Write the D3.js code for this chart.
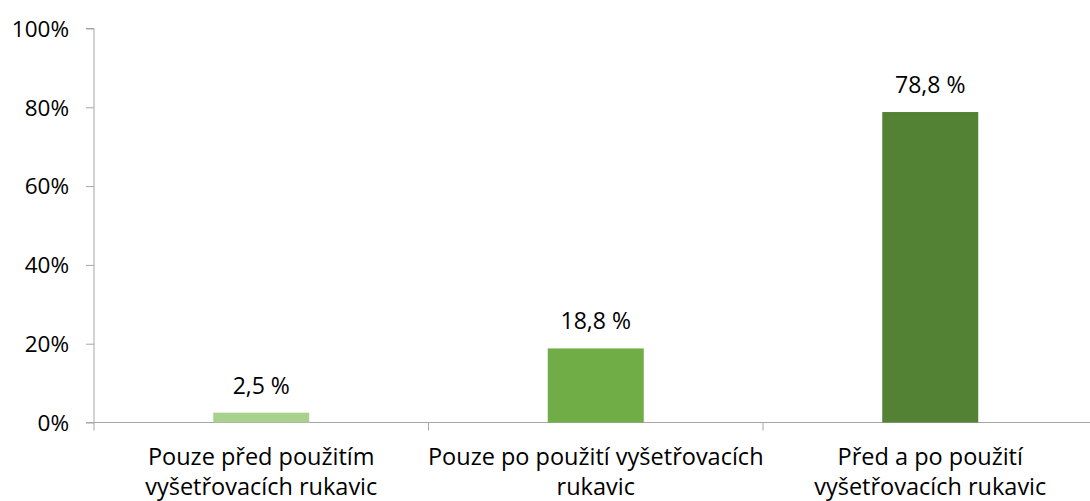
<!DOCTYPE html>
<html><head><meta charset="utf-8">
<script src="https://cdn.jsdelivr.net/npm/d3@7/dist/d3.min.js"></script>
<style>body{margin:0;background:#fff}svg{display:block}text{font-family:"Open Sans",sans-serif;fill:#000}</style>
</head><body>
<svg id="c" width="1090" height="501"></svg>
<script>
const categories = [["Pouze před použitím","vyšetřovacích rukavic"],["Pouze po použití vyšetřovacích","rukavic"],["Před a po použití","vyšetřovacích rukavic"]];
const values = [2.5, 18.8, 78.8];
const labels = ["2,5 %", "18,8 %", "78,8 %"];
const colors = ["#a9d18e", "#70ad47", "#548235"];
const yTicks = [0, 20, 40, 60, 80, 100];

const svg = d3.select("#c");
const x0 = 94, x1 = 1097.5, yTop = 28.5, yBot = 422.5;
const x = d3.scaleBand().domain(d3.range(values.length)).range([x0, x1]).padding(0);
const y = d3.scaleLinear().domain([0, 100]).range([yBot, yTop]);
const bw = 96;
const axisColor = "#a6a6a6";

// y axis
const ya = svg.append("g").attr("transform", `translate(${x0},0)`)
  .call(d3.axisLeft(y).tickValues(yTicks).tickSize(8).tickFormat(d => d + "%"));
ya.attr("font-size", null).attr("font-family", null);
ya.select(".domain").attr("stroke", axisColor).attr("d", `M-8,${yTop}H0V${yBot}H-8`);
ya.selectAll(".tick line").attr("stroke", axisColor);
ya.selectAll(".tick text").attr("x", -25).style("font-size", "22.5px").attr("fill", "#000").attr("dy", "0.35em");

// x axis
const xa = svg.append("g").attr("transform", `translate(0,${yBot})`);
xa.append("line").attr("x1", x0).attr("x2", x1).attr("stroke", axisColor);
const bounds = d3.range(values.length + 1).map(i => x0 + i * x.step());
xa.selectAll("line.t").data(bounds).join("line").attr("class", "t")
  .attr("x1", d => d).attr("x2", d => d).attr("y1", 0).attr("y2", 8).attr("stroke", axisColor);

// bars
svg.selectAll("rect.bar").data(values).join("rect").attr("class", "bar")
  .attr("x", (d, i) => x(i) + x.bandwidth() / 2 - bw / 2)
  .attr("width", bw)
  .attr("y", d => y(d))
  .attr("height", d => yBot - y(d))
  .attr("fill", (d, i) => colors[i]);

// value labels
svg.selectAll("text.val").data(values).join("text").attr("class", "val")
  .attr("x", (d, i) => x(i) + x.bandwidth() / 2)
  .attr("y", d => y(d) - 19)
  .attr("text-anchor", "middle").style("font-size", "23px")
  .text((d, i) => labels[i]);

// category labels
const cl = svg.selectAll("text.cat").data(categories).join("text").attr("class", "cat")
  .attr("text-anchor", "middle").style("font-size", "23.5px");
cl.each(function(lines, i) {
  const t = d3.select(this);
  lines.forEach((ln, j) => {
    t.append("tspan").attr("x", x(i) + x.bandwidth() / 2).attr("y", 465 + j * 30).text(ln);
  });
});
</script>
</body></html>
